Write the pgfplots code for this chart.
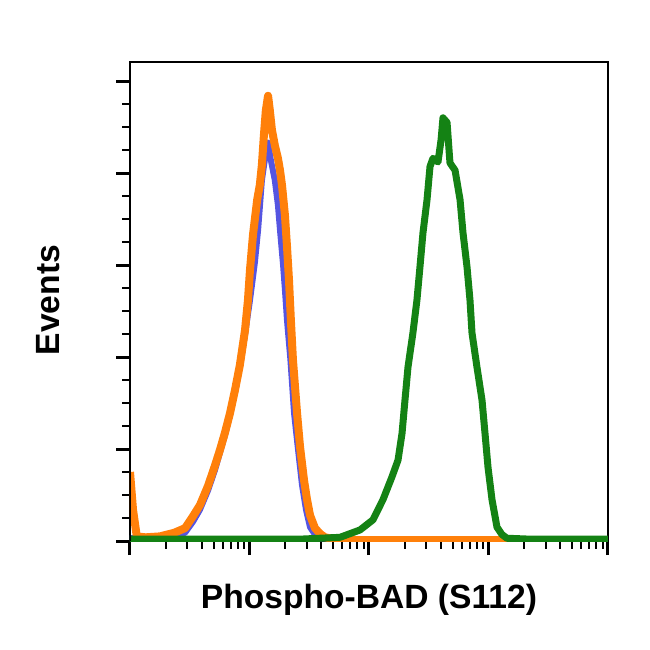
\documentclass[border=0pt]{standalone}
\usepackage{pgfplots}
\pgfplotsset{compat=1.18}
\usepackage{fontspec}
\setmainfont{Liberation Sans}
\definecolor{cblue}{RGB}{85,85,225}
\definecolor{corange}{RGB}{255,128,10}
\definecolor{cgreen}{RGB}{20,130,20}
\begin{document}
\begin{tikzpicture}
\path[use as bounding box] (-65pt,-54.5pt) rectangle (260pt,270.5pt);
\begin{axis}[
  scale only axis,
  width=239pt, height=239.5pt,
  xmode=log, xmin=1, xmax=10000,
  ymin=0, ymax=5.207,
  ytick={0,1,2,3,4,5}, minor y tick num=3,
  xtick={1,10,100,1000,10000},
  xticklabels={}, yticklabels={},
  tick align=outside, tick pos=left,
  major tick length=7pt, minor tick length=3.8pt,
  every major tick/.style={line width=1.5pt, black},
  every minor tick/.style={line width=1pt, black},
  axis line style={line width=0.8pt, black},
  clip=true,
]
\addplot[cblue, line width=3pt, line join=round] coordinates {
(1,0.03) (1.21,0.03) (1.78,0.03) (2.16,0.03) (2.89,0.09) (3.37,0.21) (3.85,0.34)
(4.50,0.55) (5.14,0.77) (5.66,0.96) (6.24,1.15) (6.87,1.37) (7.56,1.62)
(8.3,1.89) (9.17,2.24) (10.1,2.62) (11.1,3.03) (11.8,3.38) (12.7,3.92)
(13.5,4.16) (14.3,4.33) (15.1,4.14) (16.3,3.92) (17.3,3.65) (18.0,3.38)
(19.1,3.00) (19.8,2.73) (20.6,2.40) (22.0,1.97) (23.6,1.39) (25.5,0.99)
(27.5,0.61) (29.7,0.34) (32.1,0.15) (35.3,0.07) (38.9,0.03) (57.2,0.02)
(10000,0.02)
};
\addplot[corange, line width=4pt, line join=round] coordinates {
(1,0.75) (1.06,0.34) (1.14,0.05) (1.35,0.04) (1.78,0.05) (2.35,0.09)
(2.89,0.14) (3.37,0.27) (3.85,0.39) (4.50,0.60) (5.14,0.82) (5.66,0.99)
(6.24,1.18) (6.87,1.39) (7.56,1.64) (8.3,1.91) (9.17,2.29) (9.71,2.62)
(10.1,2.95) (10.7,3.33) (11.6,3.71) (12.2,3.87) (12.7,4.09) (13.2,4.41)
(13.7,4.68) (14.3,4.84) (14.8,4.68) (15.4,4.47) (16.3,4.30) (17.3,4.16)
(18.0,4.03) (18.7,3.87) (19.8,3.54) (20.6,3.20) (21.4,2.84) (22.2,2.40)
(23.1,1.97) (25.0,1.39) (26.5,1.02) (28.6,0.66) (30.3,0.45) (32.1,0.28)
(35.3,0.14) (38.9,0.08) (42.8,0.04) (57.2,0.01) (10000,0.01)
};
\addplot[cgreen, line width=3.5pt, line join=round] coordinates {
(1,0.02) (3.85,0.02) (26.5,0.02) (38.9,0.03) (57.2,0.04) (84.1,0.12)
(108,0.23) (131,0.45) (156,0.70) (175,0.88) (189,1.17) (200,1.53)
(212,1.89) (233,2.26) (252,2.62) (267,2.98) (283,3.35) (306,3.71)
(324,4.07) (343,4.16) (378,4.12) (401,4.36) (416,4.60) (450,4.55)
(476,4.11) (525,4.03) (578,3.71) (612,3.35) (661,2.98) (700,2.62)
(728,2.26) (801,1.89) (883,1.53) (935,1.17) (991,0.80) (1070,0.45)
(1178,0.15) (1297,0.07) (1428,0.03) (2223,0.02) (10000,0.02)
};
\draw[line width=1.5pt, black] (rel axis cs:0,0) -- (rel axis cs:0,1);
\end{axis}
\node[rotate=90, font=\fontsize{16.8}{20}\selectfont\bfseries] at (-41pt,120.5pt) {Events};
\node[font=\fontsize{16.8}{20}\selectfont\bfseries] at (119.5pt,-29.5pt) {Phospho-BAD (S112)};
\end{tikzpicture}
\end{document}
